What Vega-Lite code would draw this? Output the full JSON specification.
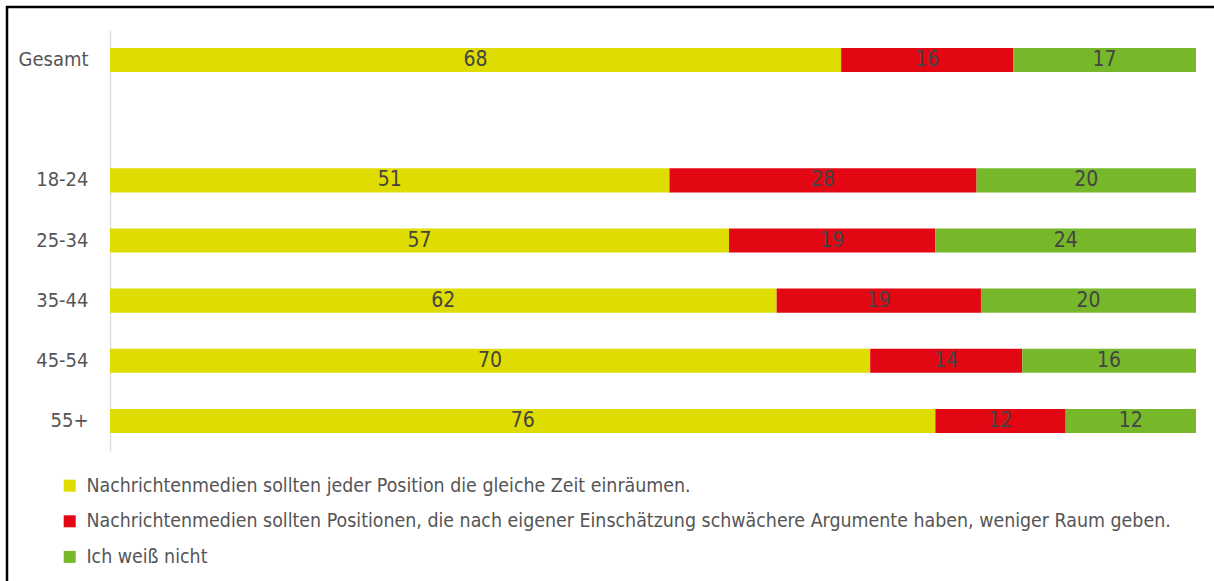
{
  "$schema": "https://vega.github.io/schema/vega-lite/v6.json",
  "width": 1209,
  "height": 576,
  "autosize": {"type": "none"},
  "padding": {"left": 7, "top": 7, "right": 0, "bottom": 0},
  "background": "white",
  "config": {
    "view": {"stroke": "black", "strokeWidth": 2.5},
    "font": "Liberation Sans Narrow, DejaVu Sans Condensed, sans-serif"
  },
  "data": {
    "values": [
      {"gruppe": "Gesamt", "antwort": "Nachrichtenmedien sollten jeder Position die gleiche Zeit einräumen.", "rang": 1, "wert": 68},
      {"gruppe": "Gesamt", "antwort": "Nachrichtenmedien sollten Positionen, die nach eigener Einschätzung schwächere Argumente haben, weniger Raum geben.", "rang": 2, "wert": 16},
      {"gruppe": "Gesamt", "antwort": "Ich weiß nicht", "rang": 3, "wert": 17},
      {"gruppe": "18-24", "antwort": "Nachrichtenmedien sollten jeder Position die gleiche Zeit einräumen.", "rang": 1, "wert": 51},
      {"gruppe": "18-24", "antwort": "Nachrichtenmedien sollten Positionen, die nach eigener Einschätzung schwächere Argumente haben, weniger Raum geben.", "rang": 2, "wert": 28},
      {"gruppe": "18-24", "antwort": "Ich weiß nicht", "rang": 3, "wert": 20},
      {"gruppe": "25-34", "antwort": "Nachrichtenmedien sollten jeder Position die gleiche Zeit einräumen.", "rang": 1, "wert": 57},
      {"gruppe": "25-34", "antwort": "Nachrichtenmedien sollten Positionen, die nach eigener Einschätzung schwächere Argumente haben, weniger Raum geben.", "rang": 2, "wert": 19},
      {"gruppe": "25-34", "antwort": "Ich weiß nicht", "rang": 3, "wert": 24},
      {"gruppe": "35-44", "antwort": "Nachrichtenmedien sollten jeder Position die gleiche Zeit einräumen.", "rang": 1, "wert": 62},
      {"gruppe": "35-44", "antwort": "Nachrichtenmedien sollten Positionen, die nach eigener Einschätzung schwächere Argumente haben, weniger Raum geben.", "rang": 2, "wert": 19},
      {"gruppe": "35-44", "antwort": "Ich weiß nicht", "rang": 3, "wert": 20},
      {"gruppe": "45-54", "antwort": "Nachrichtenmedien sollten jeder Position die gleiche Zeit einräumen.", "rang": 1, "wert": 70},
      {"gruppe": "45-54", "antwort": "Nachrichtenmedien sollten Positionen, die nach eigener Einschätzung schwächere Argumente haben, weniger Raum geben.", "rang": 2, "wert": 14},
      {"gruppe": "45-54", "antwort": "Ich weiß nicht", "rang": 3, "wert": 16},
      {"gruppe": "55+", "antwort": "Nachrichtenmedien sollten jeder Position die gleiche Zeit einräumen.", "rang": 1, "wert": 76},
      {"gruppe": "55+", "antwort": "Nachrichtenmedien sollten Positionen, die nach eigener Einschätzung schwächere Argumente haben, weniger Raum geben.", "rang": 2, "wert": 12},
      {"gruppe": "55+", "antwort": "Ich weiß nicht", "rang": 3, "wert": 12}
    ]
  },
  "encoding": {
    "y": {
      "field": "gruppe",
      "type": "nominal",
      "scale": {
        "domain": ["Gesamt", "", "18-24", "25-34", "35-44", "45-54", "55+"],
        "range": [23, 444],
        "paddingInner": 0.6,
        "paddingOuter": 0.3
      },
      "axis": {
        "title": null,
        "offset": -103,
        "ticks": false,
        "domainColor": "#dddddd",
        "domainWidth": 1.5,
        "labelFontSize": 20,
        "labelColor": "#555555",
        "labelPadding": 22,
        "labelAlign": "right"
      }
    },
    "order": {"field": "rang", "type": "quantitative"}
  },
  "layer": [
    {
      "mark": {"type": "bar"},
      "encoding": {
        "x": {
          "field": "wert",
          "type": "quantitative",
          "stack": "normalize",
          "scale": {"range": [103, 1189]},
          "axis": null
        },
        "color": {
          "field": "antwort",
          "type": "nominal",
          "scale": {
            "domain": [
              "Nachrichtenmedien sollten jeder Position die gleiche Zeit einräumen.",
              "Nachrichtenmedien sollten Positionen, die nach eigener Einschätzung schwächere Argumente haben, weniger Raum geben.",
              "Ich weiß nicht"
            ],
            "range": ["#DEDC00", "#E30613", "#76B82A"]
          },
          "legend": {
            "title": null,
            "orient": "none",
            "legendX": 53,
            "legendY": 469,
            "padding": 0,
            "symbolType": "square",
            "symbolSize": 144,
            "symbolStrokeWidth": 0,
            "symbolOpacity": 1,
            "labelFontSize": 19.4,
            "labelColor": "#555555",
            "labelOffset": 7,
            "labelLimit": 1200,
            "rowPadding": 14.6
          }
        }
      }
    },
    {
      "mark": {"type": "text", "fontSize": 21, "color": "#444444", "baseline": "middle"},
      "encoding": {
        "x": {
          "field": "wert",
          "type": "quantitative",
          "stack": "normalize",
          "bandPosition": 0.5
        },
        "text": {"field": "wert", "type": "quantitative"}
      }
    }
  ]
}
